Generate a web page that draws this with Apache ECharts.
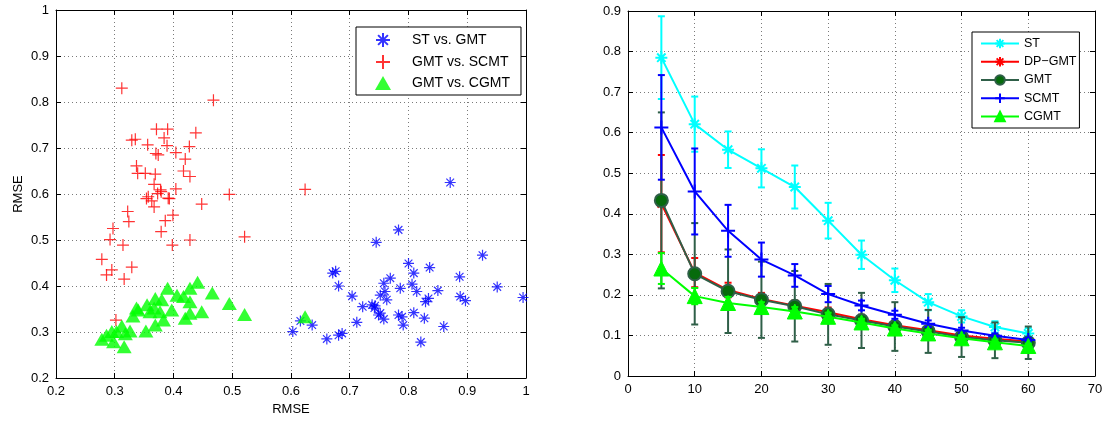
<!DOCTYPE html>
<html>
<head>
<meta charset="utf-8">
<script src="https://cdn.jsdelivr.net/npm/echarts@6/dist/echarts.min.js"></script>
<style>
html,body{margin:0;padding:0;background:#fff;}
#c{width:1107px;height:421px;}
</style>
</head>
<body>
<div id="c"></div>
<script>
// ---------- Left panel: scatter (RMSE vs RMSE) ----------
const stVsGmt = [
  [0.871,0.625],[0.783,0.522],[0.745,0.495],[0.926,0.467],[0.671,0.428],[0.681,0.400],
  [0.704,0.378],[0.722,0.355],[0.738,0.359],[0.743,0.357],[0.749,0.337],[0.758,0.328],
  [0.752,0.380],[0.758,0.406],[0.769,0.417],[0.763,0.370],[0.760,0.388],[0.786,0.395],
  [0.800,0.449],[0.809,0.428],[0.806,0.404],[0.814,0.388],[0.836,0.440],[0.850,0.390],
  [0.829,0.366],[0.834,0.373],[0.783,0.337],[0.789,0.333],[0.791,0.315],[0.809,0.342],
  [0.827,0.330],[0.860,0.312],[0.821,0.278],[0.887,0.420],[0.888,0.377],[0.897,0.368],
  [0.951,0.398],[0.995,0.375],[0.712,0.321],[0.661,0.285],[0.681,0.293],[0.687,0.297],
  [0.603,0.301],[0.616,0.324],[0.636,0.315],[0.752,0.341],[0.676,0.432],[0.742,0.352]
];
const gmtVsScmt = [
  [0.312,0.830],[0.468,0.804],[0.371,0.741],[0.390,0.741],[0.438,0.733],[0.335,0.719],
  [0.329,0.717],[0.384,0.722],[0.356,0.707],[0.389,0.705],[0.427,0.703],[0.370,0.688],
  [0.374,0.685],[0.404,0.690],[0.420,0.676],[0.337,0.661],[0.339,0.645],[0.352,0.645],
  [0.369,0.643],[0.417,0.650],[0.428,0.638],[0.367,0.621],[0.378,0.609],[0.404,0.611],
  [0.357,0.594],[0.391,0.591],[0.495,0.599],[0.624,0.610],[0.354,0.590],[0.363,0.585],
  [0.373,0.601],[0.379,0.605],[0.393,0.590],[0.367,0.572],[0.448,0.578],[0.322,0.562],
  [0.324,0.540],[0.399,0.554],[0.386,0.542],[0.379,0.518],[0.297,0.525],[0.292,0.501],
  [0.314,0.489],[0.398,0.489],[0.428,0.500],[0.521,0.507],[0.278,0.458],[0.329,0.441],
  [0.295,0.435],[0.286,0.424],[0.316,0.415],[0.302,0.326]
];
const gmtVsCgmt = [
  [0.278,0.284],[0.286,0.293],[0.298,0.279],[0.316,0.268],[0.312,0.313],[0.295,0.301],
  [0.326,0.302],[0.353,0.302],[0.369,0.315],[0.383,0.326],[0.331,0.335],[0.340,0.348],
  [0.355,0.359],[0.369,0.373],[0.390,0.395],[0.406,0.380],[0.428,0.395],[0.441,0.408],
  [0.466,0.385],[0.495,0.362],[0.521,0.338],[0.448,0.344],[0.428,0.341],[0.420,0.330],
  [0.397,0.348],[0.377,0.344],[0.360,0.344],[0.380,0.370],[0.428,0.366],[0.417,0.377],
  [0.367,0.352],[0.624,0.333],[0.318,0.296],[0.303,0.301],[0.337,0.352]
];
const leftTicks = [0.2,0.3,0.4,0.5,0.6,0.7,0.8,0.9,1];

// ---------- Right panel: lines with error bars ----------
const nodes    = [5,10,15,20,25,30,35,40,45,50,55,60];
const stMean   = [0.785,0.621,0.558,0.512,0.466,0.383,0.299,0.236,0.182,0.147,0.121,0.105];
const stErr    = [0.102,0.068,0.045,0.047,0.053,0.044,0.035,0.029,0.020,0.015,0.014,0.013];
const dpMean   = [0.425,0.255,0.212,0.190,0.173,0.157,0.140,0.125,0.113,0.100,0.092,0.085];
const dpErr    = [0.120,0.036,0.018,0.015,0.013,0.012,0.011,0.010,0.009,0.008,0.007,0.007];
const gmtMean  = [0.433,0.252,0.209,0.188,0.172,0.152,0.137,0.122,0.110,0.096,0.088,0.082];
const gmtErr   = [0.217,0.125,0.103,0.094,0.087,0.075,0.068,0.060,0.053,0.049,0.044,0.040];
const scmtMean = [0.613,0.455,0.358,0.287,0.248,0.202,0.174,0.151,0.129,0.112,0.099,0.089];
const scmtErr  = [0.129,0.106,0.064,0.042,0.028,0.020,0.012,0.010,0.008,0.007,0.006,0.005];
const cgmtMean = [0.265,0.197,0.180,0.170,0.159,0.146,0.132,0.117,0.105,0.093,0.083,0.074];
const cgmtErr  = [0.038,0.020,0.015,0.012,0.011,0.010,0.009,0.008,0.008,0.007,0.007,0.006];

const FONT = '"Liberation Sans", Arial, Helvetica, sans-serif';
const STAR = 'path://M10,0L10,20M0,10L20,10M3,3L17,17M3,17L17,3';
const PLUS = 'path://M10,0L10,20M0,10L20,10';

const chart = echarts.init(document.getElementById('c'), null, {renderer:'canvas'});

const gridLine = {show:true, lineStyle:{color:'#7a7a7a', type:[1,3], width:1}};
function mainAxis(gridIndex, pos, min, max, interval, extra){
  return Object.assign({
    type:'value', gridIndex, position:pos, min, max, interval,
    axisLine:{show:true, onZero:false, lineStyle:{color:'#000', width:1}},
    axisTick:{show:true, inside:true, length:5, lineStyle:{color:'#000'}},
    axisLabel:{show:true, color:'#000', fontSize:13, fontFamily:FONT, margin:7},
    splitLine:gridLine
  }, extra||{});
}
function mirrorAxis(gridIndex, pos, min, max, interval){
  return {
    type:'value', gridIndex, position:pos, min, max, interval,
    axisLine:{show:true, onZero:false, lineStyle:{color:'#000', width:1}},
    axisTick:{show:true, inside:true, length:5, lineStyle:{color:'#000'}},
    axisLabel:{show:false}, splitLine:{show:false}
  };
}

function errSeries(name, mean, err, color, z){
  return {
    type:'custom', name, xAxisIndex:2, yAxisIndex:2, z, silent:true,
    data: nodes.map((x,i)=>[x, mean[i]-err[i], mean[i]+err[i]]),
    encode:{x:0, y:[1,2]},
    renderItem(params, api){
      const x = api.value(0);
      const top = api.coord([x, api.value(2)]);
      const bot = api.coord([x, api.value(1)]);
      const w = 3.5;
      const st = {stroke:color, lineWidth:2};
      return {type:'group', children:[
        {type:'line', shape:{x1:top[0],y1:top[1],x2:bot[0],y2:bot[1]}, style:st},
        {type:'line', shape:{x1:top[0]-w,y1:top[1],x2:top[0]+w,y2:top[1]}, style:st},
        {type:'line', shape:{x1:bot[0]-w,y1:bot[1],x2:bot[0]+w,y2:bot[1]}, style:st}
      ]};
    }
  };
}
function lineSeries(name, mean, color, symbol, size, z, itemStyle){
  return {
    type:'line', name, xAxisIndex:2, yAxisIndex:2, z,
    data: nodes.map((x,i)=>[x, mean[i]]),
    symbol, symbolSize:size, showAllSymbol:true,
    lineStyle:{color, width:2},
    itemStyle: itemStyle || {color, borderColor:color, borderWidth:2},
    emphasis:{disabled:true}, animation:false
  };
}

const option = {
  animation:false,
  textStyle:{fontFamily:FONT},
  grid:[
    {left:56, right:581, top:10, bottom:43},
    {left:628, right:12, top:11, bottom:45}
  ],
  xAxis:[
    mainAxis(0,'bottom',0.2,1,0.1,{name:'RMSE', nameLocation:'middle', nameGap:24,
      nameTextStyle:{color:'#000', fontSize:13, fontFamily:FONT}}),
    mirrorAxis(0,'top',0.2,1,0.1),
    mainAxis(1,'bottom',0,70,10),
    mirrorAxis(1,'top',0,70,10)
  ],
  yAxis:[
    mainAxis(0,'left',0.2,1,0.1,{name:'RMSE', nameLocation:'middle', nameGap:31,
      nameTextStyle:{color:'#000', fontSize:13, fontFamily:FONT}}),
    mirrorAxis(0,'right',0.2,1,0.1),
    mainAxis(1,'left',0,0.9,0.1),
    mirrorAxis(1,'right',0,0.9,0.1)
  ],
  legend:[
    {
      data:['ST vs. GMT','GMT vs. SCMT','GMT vs. CGMT'],
      orient:'vertical', left:356, top:27,
      padding:[5,11,5,19], itemWidth:16, itemHeight:14, itemGap:6,
      backgroundColor:'#fff', borderColor:'#000', borderWidth:1, borderRadius:0,
      textStyle:{color:'#000', fontSize:14, fontFamily:FONT, lineHeight:14, padding:[0,0,0,16]},
      selectedMode:false
    },
    {
      data:['ST','DP\u2212GMT','GMT','SCMT','CGMT'],
      orient:'vertical', left:972, top:32,
      padding:[5,3,5,8], itemWidth:38, itemHeight:12, itemGap:5.25,
      backgroundColor:'#fff', borderColor:'#000', borderWidth:1, borderRadius:0,
      textStyle:{color:'#000', fontSize:12.5, fontFamily:FONT, lineHeight:12},
      selectedMode:false
    }
  ],
  series:[
    {type:'scatter', name:'ST vs. GMT', xAxisIndex:0, yAxisIndex:0, data:stVsGmt,
      symbol:STAR, symbolSize:11, z:2,
      itemStyle:{color:'#0000ff', borderColor:'#0000ff', borderWidth:1.2}},
    {type:'scatter', name:'GMT vs. SCMT', xAxisIndex:0, yAxisIndex:0, data:gmtVsScmt,
      symbol:PLUS, symbolSize:12, z:3,
      itemStyle:{color:'#ff0000', borderColor:'#ff0000', borderWidth:1.2}},
    {type:'scatter', name:'GMT vs. CGMT', xAxisIndex:0, yAxisIndex:0, data:gmtVsCgmt,
      symbol:'triangle', symbolSize:[15,13], z:4,
      itemStyle:{color:'#00ff00'}},

    errSeries('stErr', stMean, stErr, '#00ffff', 2),
    lineSeries('ST', stMean, '#00ffff', STAR, 12, 2),
    errSeries('dpErr', dpMean, dpErr, '#ff0000', 3),
    lineSeries('DP\u2212GMT', dpMean, '#ff0000', STAR, 11, 3),
    errSeries('gmtErr', gmtMean, gmtErr, '#2f5f48', 4),
    lineSeries('GMT', gmtMean, '#2f5f48', 'circle', 13, 4,
      {color:'#066b0c', borderColor:'#2f5f48', borderWidth:2}),
    errSeries('scmtErr', scmtMean, scmtErr, '#0000ff', 5),
    lineSeries('SCMT', scmtMean, '#0000ff', PLUS, 14, 5),
    errSeries('cgmtErr', cgmtMean, cgmtErr, '#00ff00', 6),
    lineSeries('CGMT', cgmtMean, '#00ff00', 'triangle', 15, 6,
      {color:'#00ff00', borderColor:'#00ff00', borderWidth:1})
  ]
};
chart.setOption(option);
</script>
</body>
</html>
